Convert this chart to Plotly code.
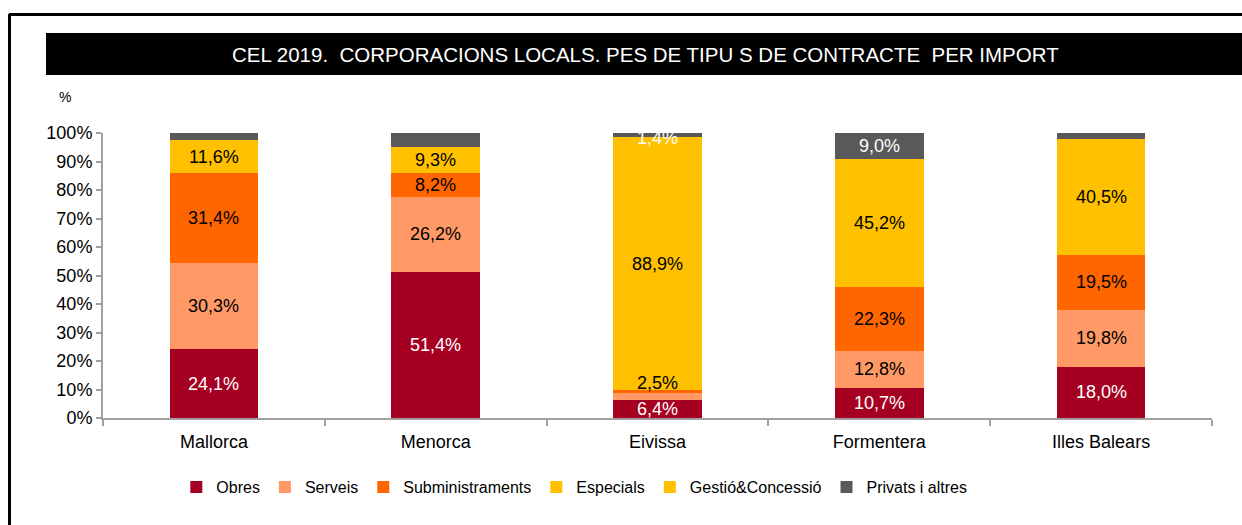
import plotly.graph_objects as go

categories = ["Mallorca", "Menorca", "Eivissa", "Formentera", "Illes Balears"]
obres = [24.1, 51.4, 6.4, 10.7, 18.0]
serveis = [30.3, 26.2, 2.5, 12.8, 19.8]
subministraments = [31.4, 8.2, 0.8, 22.3, 19.5]
especials = [11.6, 9.3, 88.9, 45.2, 40.5]
gestio = [0.0, 0.0, 0.0, 0.0, 0.0]
privats = [2.6, 4.9, 1.4, 9.0, 2.2]

series_names = ["Obres", "Serveis", "Subministraments", "Especials", "Gestió&Concessió", "Privats i altres"]
series_values = [obres, serveis, subministraments, especials, gestio, privats]
colors = ["#A50021", "#FF9966", "#FF6600", "#FFC000", "#FFC000", "#595959"]
label_colors = ["white", "black", "black", "black", "black", "white"]
# labels not printed in the original chart (series, category)
hidden_labels = {("Privats i altres", "Mallorca"), ("Privats i altres", "Menorca"),
                 ("Privats i altres", "Illes Balears"), ("Subministraments", "Eivissa")}

title_text = "CEL 2019.  CORPORACIONS LOCALS. PES DE TIPU S DE CONTRACTE  PER IMPORT"

W, H = 1242, 525
L, R, T, B = 103, 30, 133, 107
PW, PH = W - L - R, H - T - B


def px(x):
    return (x - L) / PW


def py(y):
    return (H - B - y) / PH


regular = "Liberation Sans, Arial, sans-serif"

fig = go.Figure()
for name, vals, col in zip(series_names, series_values, colors):
    fig.add_trace(go.Bar(
        name=name, x=categories, y=vals, marker=dict(color=col, line=dict(width=0)),
        width=0.4, hoverinfo="x+y+name",
    ))

annotations = []
cum = [0.0] * len(categories)
for name, vals, lc in zip(series_names, series_values, label_colors):
    for i, (c, v) in enumerate(zip(categories, vals)):
        mid = cum[i] + v / 2
        cum[i] += v
        if v <= 0 or (name, c) in hidden_labels:
            continue
        yshift = 0
        if name == "Serveis" and c == "Eivissa":
            yshift = 13
        if name == "Privats i altres" and c == "Eivissa":
            yshift = -3
        annotations.append(dict(
            x=c, y=mid, xref="x", yref="y", text=f"{v:.1f}%".replace(".", ","),
            showarrow=False, yshift=yshift,
            font=dict(family=regular, size=18, color=lc),
        ))

annotations.append(dict(
    x=px(645), y=py(54), xref="paper", yref="paper", text=title_text,
    showarrow=False, xanchor="center", yanchor="middle",
    font=dict(family=regular, size=20.5, color="white"),
))
annotations.append(dict(
    x=px(65), y=py(97), xref="paper", yref="paper", text="%",
    showarrow=False, xanchor="center", yanchor="middle",
    font=dict(family=regular, size=14, color="black"),
))

shapes = [
    dict(type="rect", xref="paper", yref="paper", x0=px(46), x1=px(1250), y0=py(75), y1=py(33),
         fillcolor="black", line=dict(width=0), layer="below"),
    dict(type="line", xref="paper", yref="paper", x0=px(9), x1=px(1250), y0=py(14.5), y1=py(14.5),
         line=dict(color="black", width=3)),
    dict(type="line", xref="paper", yref="paper", x0=px(9.5), x1=px(9.5), y0=py(14), y1=py(530),
         line=dict(color="black", width=3)),
]

fig.update_layout(
    width=W, height=H, margin=dict(l=L, r=R, t=T, b=B),
    barmode="stack", bargap=0.6,
    plot_bgcolor="white", paper_bgcolor="white",
    annotations=annotations, shapes=shapes,
    legend=dict(orientation="h", x=0.425, xanchor="center", y=py(487), yanchor="middle",
                font=dict(family=regular, size=16, color="black"), traceorder="normal",
                itemwidth=30, tracegroupgap=0),
    xaxis=dict(showline=True, linecolor="#A0A0A0", linewidth=2, ticks="outside",
               tickson="boundaries", ticklen=6, tickcolor="#A0A0A0", tickwidth=1.5,
               ticklabelstandoff=6,
               tickfont=dict(family=regular, size=18, color="black"), showgrid=False),
    yaxis=dict(range=[0, 100], dtick=10, ticksuffix="%", showline=True, linecolor="#A0A0A0",
               linewidth=2, ticks="outside", ticklen=5, tickcolor="#A0A0A0", tickwidth=1.5,
               tickfont=dict(family=regular, size=18, color="black"), showgrid=False,
               zeroline=False),
    showlegend=True,
)

fig.write_html("out.html", config={"displayModeBar": False},
               post_script="document.body.style.margin='0';document.body.style.overflow='hidden';")
